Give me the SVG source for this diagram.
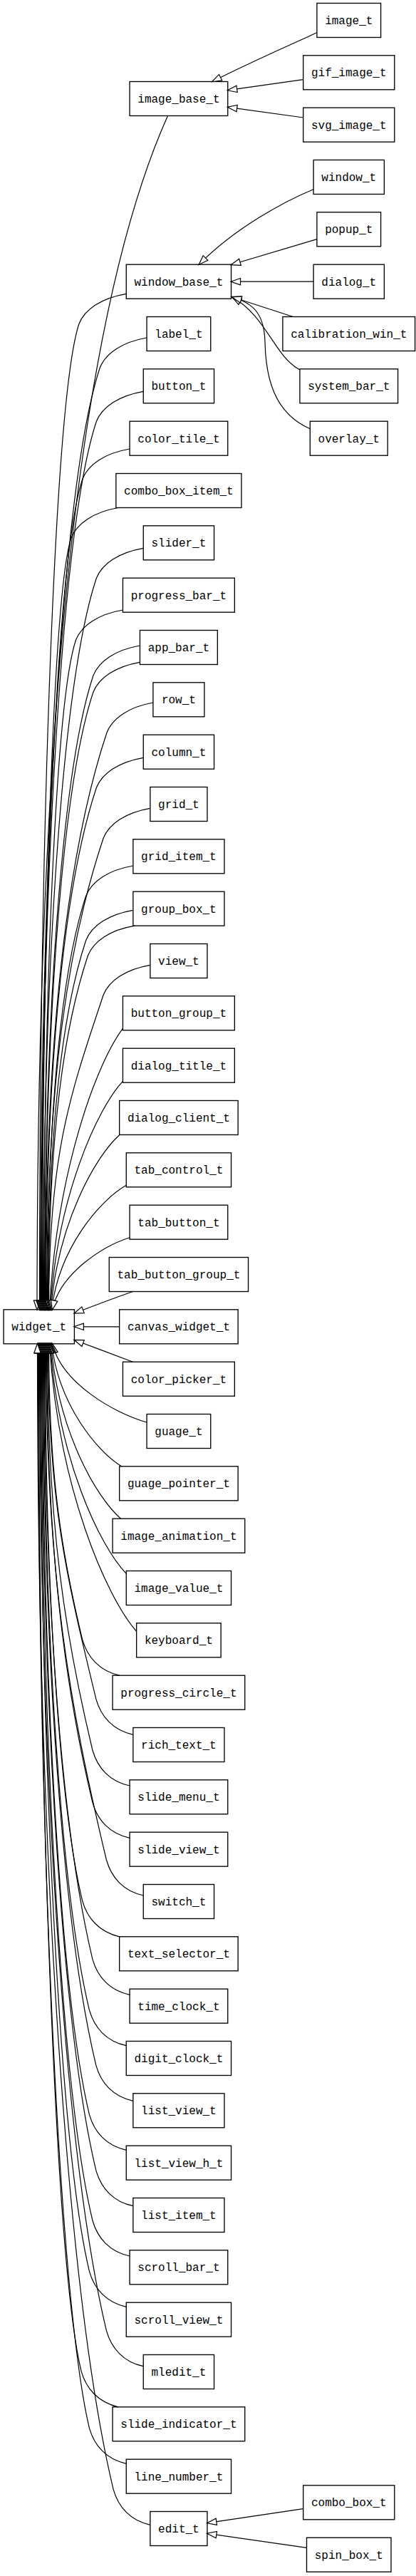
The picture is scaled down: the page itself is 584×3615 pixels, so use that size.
<svg xmlns="http://www.w3.org/2000/svg" width="584" height="3615" viewBox="0 0 584 3615">
<style>
.n rect{fill:#fff;stroke:#000;stroke-width:1.33}
.n text{font-family:"Liberation Mono","Courier New",monospace;font-size:16px;text-anchor:middle;fill:#000}
#edges path{fill:none;stroke:#000;stroke-width:1.2;marker-end:url(#oa)}
</style>
<defs>
<marker id="oa" markerUnits="userSpaceOnUse" markerWidth="16" markerHeight="12" viewBox="0 0 16 12" refX="14" refY="6" orient="auto" style="overflow:visible">
<path d="M1,1.3 L14.5,6 L1,10.7 Z" fill="#fff" stroke="#000" stroke-width="1.2"/>
</marker>
</defs>
<rect width="584" height="3615" fill="#fff"/>
<g id="nodes">
<g id="image_t" class="n"><rect x="444.9" y="4.5" width="89.7" height="48"/><text x="489.75" y="34">image_t</text></g>
<g id="gif_image_t" class="n"><rect x="425.7" y="77.8" width="128.1" height="48"/><text x="489.75" y="107.3">gif_image_t</text></g>
<g id="svg_image_t" class="n"><rect x="425.7" y="151.2" width="128.1" height="48"/><text x="489.75" y="180.7">svg_image_t</text></g>
<g id="window_t" class="n"><rect x="440.1" y="224.5" width="99.3" height="48"/><text x="489.75" y="254">window_t</text></g>
<g id="popup_t" class="n"><rect x="444.9" y="297.8" width="89.7" height="48"/><text x="489.75" y="327.3">popup_t</text></g>
<g id="dialog_t" class="n"><rect x="440.1" y="371.2" width="99.3" height="48"/><text x="489.75" y="400.7">dialog_t</text></g>
<g id="calibration_win_t" class="n"><rect x="396.9" y="444.5" width="185.7" height="48"/><text x="489.75" y="474">calibration_win_t</text></g>
<g id="system_bar_t" class="n"><rect x="420.9" y="517.8" width="137.7" height="48"/><text x="489.75" y="547.3">system_bar_t</text></g>
<g id="overlay_t" class="n"><rect x="435.3" y="591.2" width="108.9" height="48"/><text x="489.75" y="620.7">overlay_t</text></g>
<g id="combo_box_t" class="n"><rect x="425.7" y="3487.8" width="128.1" height="48"/><text x="489.75" y="3517.3">combo_box_t</text></g>
<g id="spin_box_t" class="n"><rect x="430.5" y="3561.2" width="118.5" height="48"/><text x="489.75" y="3590.7">spin_box_t</text></g>

<g id="image_base_t" class="n"><rect x="182.05" y="114.5" width="137.7" height="48"/><text x="250.9" y="144">image_base_t</text></g>
<g id="window_base_t" class="n"><rect x="177.25" y="371.2" width="147.3" height="48"/><text x="250.9" y="400.7">window_base_t</text></g>
<g id="label_t" class="n"><rect x="206.05" y="444.5" width="89.7" height="48"/><text x="250.9" y="474">label_t</text></g>
<g id="button_t" class="n"><rect x="201.25" y="517.8" width="99.3" height="48"/><text x="250.9" y="547.3">button_t</text></g>
<g id="color_tile_t" class="n"><rect x="182.05" y="591.2" width="137.7" height="48"/><text x="250.9" y="620.7">color_tile_t</text></g>
<g id="combo_box_item_t" class="n"><rect x="162.85" y="664.5" width="176.1" height="48"/><text x="250.9" y="694">combo_box_item_t</text></g>
<g id="slider_t" class="n"><rect x="201.25" y="737.8" width="99.3" height="48"/><text x="250.9" y="767.3">slider_t</text></g>
<g id="progress_bar_t" class="n"><rect x="172.45" y="811.2" width="156.9" height="48"/><text x="250.9" y="840.7">progress_bar_t</text></g>
<g id="app_bar_t" class="n"><rect x="196.45" y="884.5" width="108.9" height="48"/><text x="250.9" y="914">app_bar_t</text></g>
<g id="row_t" class="n"><rect x="214.9" y="957.8" width="72" height="48"/><text x="250.9" y="987.3">row_t</text></g>
<g id="column_t" class="n"><rect x="201.25" y="1031.2" width="99.3" height="48"/><text x="250.9" y="1060.7">column_t</text></g>
<g id="grid_t" class="n"><rect x="210.85" y="1104.5" width="80.1" height="48"/><text x="250.9" y="1134">grid_t</text></g>
<g id="grid_item_t" class="n"><rect x="186.85" y="1177.8" width="128.1" height="48"/><text x="250.9" y="1207.3">grid_item_t</text></g>
<g id="group_box_t" class="n"><rect x="186.85" y="1251.2" width="128.1" height="48"/><text x="250.9" y="1280.7">group_box_t</text></g>
<g id="view_t" class="n"><rect x="210.85" y="1324.5" width="80.1" height="48"/><text x="250.9" y="1354">view_t</text></g>
<g id="button_group_t" class="n"><rect x="172.45" y="1397.8" width="156.9" height="48"/><text x="250.9" y="1427.3">button_group_t</text></g>
<g id="dialog_title_t" class="n"><rect x="172.45" y="1471.2" width="156.9" height="48"/><text x="250.9" y="1500.7">dialog_title_t</text></g>
<g id="dialog_client_t" class="n"><rect x="167.65" y="1544.5" width="166.5" height="48"/><text x="250.9" y="1574">dialog_client_t</text></g>
<g id="tab_control_t" class="n"><rect x="177.25" y="1617.8" width="147.3" height="48"/><text x="250.9" y="1647.3">tab_control_t</text></g>
<g id="tab_button_t" class="n"><rect x="182.05" y="1691.2" width="137.7" height="48"/><text x="250.9" y="1720.7">tab_button_t</text></g>
<g id="tab_button_group_t" class="n"><rect x="153.25" y="1764.5" width="195.3" height="48"/><text x="250.9" y="1794">tab_button_group_t</text></g>
<g id="canvas_widget_t" class="n"><rect x="167.65" y="1837.8" width="166.5" height="48"/><text x="250.9" y="1867.3">canvas_widget_t</text></g>
<g id="color_picker_t" class="n"><rect x="172.45" y="1911.2" width="156.9" height="48"/><text x="250.9" y="1940.7">color_picker_t</text></g>
<g id="guage_t" class="n"><rect x="206.05" y="1984.5" width="89.7" height="48"/><text x="250.9" y="2014">guage_t</text></g>
<g id="guage_pointer_t" class="n"><rect x="167.65" y="2057.8" width="166.5" height="48"/><text x="250.9" y="2087.3">guage_pointer_t</text></g>
<g id="image_animation_t" class="n"><rect x="158.05" y="2131.2" width="185.7" height="48"/><text x="250.9" y="2160.7">image_animation_t</text></g>
<g id="image_value_t" class="n"><rect x="177.25" y="2204.5" width="147.3" height="48"/><text x="250.9" y="2234">image_value_t</text></g>
<g id="keyboard_t" class="n"><rect x="191.65" y="2277.8" width="118.5" height="48"/><text x="250.9" y="2307.3">keyboard_t</text></g>
<g id="progress_circle_t" class="n"><rect x="158.05" y="2351.2" width="185.7" height="48"/><text x="250.9" y="2380.7">progress_circle_t</text></g>
<g id="rich_text_t" class="n"><rect x="186.85" y="2424.5" width="128.1" height="48"/><text x="250.9" y="2454">rich_text_t</text></g>
<g id="slide_menu_t" class="n"><rect x="182.05" y="2497.8" width="137.7" height="48"/><text x="250.9" y="2527.3">slide_menu_t</text></g>
<g id="slide_view_t" class="n"><rect x="182.05" y="2571.2" width="137.7" height="48"/><text x="250.9" y="2600.7">slide_view_t</text></g>
<g id="switch_t" class="n"><rect x="201.25" y="2644.5" width="99.3" height="48"/><text x="250.9" y="2674">switch_t</text></g>
<g id="text_selector_t" class="n"><rect x="167.65" y="2717.8" width="166.5" height="48"/><text x="250.9" y="2747.3">text_selector_t</text></g>
<g id="time_clock_t" class="n"><rect x="182.05" y="2791.2" width="137.7" height="48"/><text x="250.9" y="2820.7">time_clock_t</text></g>
<g id="digit_clock_t" class="n"><rect x="177.25" y="2864.5" width="147.3" height="48"/><text x="250.9" y="2894">digit_clock_t</text></g>
<g id="list_view_t" class="n"><rect x="186.85" y="2937.8" width="128.1" height="48"/><text x="250.9" y="2967.3">list_view_t</text></g>
<g id="list_view_h_t" class="n"><rect x="177.25" y="3011.2" width="147.3" height="48"/><text x="250.9" y="3040.7">list_view_h_t</text></g>
<g id="list_item_t" class="n"><rect x="186.85" y="3084.5" width="128.1" height="48"/><text x="250.9" y="3114">list_item_t</text></g>
<g id="scroll_bar_t" class="n"><rect x="182.05" y="3157.8" width="137.7" height="48"/><text x="250.9" y="3187.3">scroll_bar_t</text></g>
<g id="scroll_view_t" class="n"><rect x="177.25" y="3231.2" width="147.3" height="48"/><text x="250.9" y="3260.7">scroll_view_t</text></g>
<g id="mledit_t" class="n"><rect x="201.25" y="3304.5" width="99.3" height="48"/><text x="250.9" y="3334">mledit_t</text></g>
<g id="slide_indicator_t" class="n"><rect x="158.05" y="3377.8" width="185.7" height="48"/><text x="250.9" y="3407.3">slide_indicator_t</text></g>
<g id="line_number_t" class="n"><rect x="177.25" y="3451.2" width="147.3" height="48"/><text x="250.9" y="3480.7">line_number_t</text></g>
<g id="edit_t" class="n"><rect x="210.85" y="3524.5" width="80.1" height="48"/><text x="250.9" y="3554">edit_t</text></g>

<g id="widget_t" class="n"><rect x="5.1" y="1837.8" width="99.3" height="48"/><text x="54.75" y="1867.3">widget_t</text></g>
</g>
<g id="edges">
<path d="M444.9,45.7 C410,62 350,88 298,114.5"/>
<path d="M425.7,111.7 L319.75,126.7"/>
<path d="M425.7,165 L319.75,150.3"/>
<path d="M440.1,265.7 C400,282 330,320 279.4,371.2"/>
<path d="M444.9,335.7 L324.55,371.5"/>
<path d="M440.1,395.2 L324.55,395.2"/>
<path d="M411.4,444.5 L325,416.5"/>
<path d="M420.9,519 C385,500 375,445 326,416.8"/>
<path d="M435.3,601.7 C385,580 373,530 372,480 C371,440 355,425 326,417"/>
<path d="M425.7,3520.7 L291,3540.7"/>
<path d="M430.5,3575.3 L291,3555.3"/>

<path d="M235.5,162.5 C145.5,363 52,800 52,1837.8"/>
<path d="M177.25,412.3 C142,418.3 119,434.3 111,454.3 C77.7,554.2 55.5,1146 55.5,1837.8"/>
<path d="M206.05,474 C171.3,480 148.3,496 140.3,516 C90,666.8 56.5,1176.9 56.5,1837.8"/>
<path d="M201.25,549.3 C166.4,555.3 143.4,571.3 135.4,591.3 C88.7,731.5 57.5,1214.5 57.5,1837.8"/>
<path d="M182.05,630 C146.9,636 123.9,652 115.9,672 C81.5,775.3 58.5,1254.9 58.5,1837.8"/>
<path d="M166,712.5 C131,718.7 108,734.7 100,754.7 C75.7,827.6 59.5,1296.2 59.5,1837.8"/>
<path d="M201.25,769.3 C166.4,775.3 143.4,791.3 135.4,811.3 C90.5,946.1 60.5,1324.5 60.5,1837.8"/>
<path d="M172.45,856 C137.5,862 114.5,878 106.5,898 C79.5,979 61.5,1367.9 61.5,1837.8"/>
<path d="M196.45,906 C161.9,912 138.9,928 130.9,948 C89.9,1071.1 62.5,1392.9 62.5,1837.8"/>
<path d="M196.45,929.3 C161.9,935.3 138.9,951.3 130.9,971.3 C90.2,1093.5 63,1404.5 63,1837.8"/>
<path d="M214.9,986 C181,992 158,1008 150,1028 C98.1,1183.7 63.5,1432.9 63.5,1837.8"/>
<path d="M201.25,1063.3 C166.4,1069.3 143.4,1085.3 135.4,1105.3 C92.9,1232.9 64.5,1471.5 64.5,1837.8"/>
<path d="M210.85,1134.3 C176.1,1140.3 153.1,1156.3 145.1,1176.3 C97.3,1319.6 65.5,1507 65.5,1837.8"/>
<path d="M186.85,1215 C151.8,1221 128.8,1237 120.8,1257 C88.2,1354.7 66.5,1547.4 66.5,1837.8"/>
<path d="M186.85,1277.3 C151.8,1283.3 128.8,1299.3 120.8,1319.3 C88.8,1415.2 67.5,1578.5 67.5,1837.8"/>
<path d="M189.4,1299.2 C154.4,1305 131.4,1321 123.4,1341 C90.2,1440.7 68,1589.4 68,1837.8"/>
<path d="M210.85,1354.3 C176.1,1360.3 153.1,1376.3 145.1,1396.3 C99.1,1534.2 68.5,1617 68.5,1837.8"/>
<path d="M172.45,1443.3 C136.4,1490.6 79.8,1640.5 69.5,1837.8"/>
<path d="M172.45,1517.3 C136.8,1555.7 80.7,1677.5 70.5,1837.8"/>
<path d="M167.65,1592.7 C134.7,1622.1 81.2,1715.2 71.5,1837.8"/>
<path d="M177.25,1663.3 C140.7,1684.2 83,1750.5 72.5,1837.8"/>
<path d="M182.05,1736.7 C144,1748.8 84.3,1787.2 73.5,1837.8"/>
<path d="M186.4,1812.5 C165,1820 130,1833 104.4,1843"/>
<path d="M167.65,1861.8 L104.4,1861.8"/>
<path d="M186.4,1911.2 C165,1903 130,1890 104.4,1880.5"/>

<path d="M206.05,1996 C159.8,1982.8 86.8,1940.9 73.5,1885.8"/>
<path d="M170.6,2057.8 C136.3,2036.7 82.3,1971.5 72.5,1885.8"/>
<path d="M169.5,2131.2 C135.2,2101.3 81.3,2008.2 71.5,1885.8"/>
<path d="M177.25,2208.3 C140,2169.6 81.2,2047 70.5,1885.8"/>
<path d="M191.65,2289.3 C149.1,2240.9 81.8,2087.5 69.5,1885.8"/>
<path d="M167.6,2351.2 C139.6,2344.7 122.6,2325.7 115.6,2300.7 C87.3,2182.9 68.5,2072.4 68.5,1885.8"/>
<path d="M186.85,2434.3 C158.85,2428.3 141.85,2409.3 134.85,2384.3 C94.3,2217 67.5,2110.1 67.5,1885.8"/>
<path d="M182.05,2506 C153.9,2500 136.9,2481 129.9,2456 C91.9,2297.5 66.5,2142.3 66.5,1885.8"/>
<path d="M182.05,2579.3 C153.9,2573.3 136.9,2554.3 129.9,2529.3 C91.3,2368.3 65.5,2175.3 65.5,1885.8"/>
<path d="M201.25,2660 C173.4,2654 156.4,2635 149.4,2610 C98.5,2397.7 64.5,2211.6 64.5,1885.8"/>
<path d="M167.65,2717.8 C139.6,2711.3 122.6,2692.3 115.6,2667.3 C84.3,2537 63.5,2237.4 63.5,1885.8"/>
<path d="M182.05,2799.3 C153.9,2793.3 136.9,2774.3 129.9,2749.3 C89.5,2580.8 62.5,2274.3 62.5,1885.8"/>
<path d="M177.25,2870.7 C149.4,2864.7 132.4,2845.7 125.4,2820.7 C87.1,2660.9 61.5,2306.4 61.5,1885.8"/>
<path d="M186.85,2948.3 C158.8,2942.3 141.8,2923.3 134.8,2898.3 C90.2,2712.5 60.5,2341.4 60.5,1885.8"/>
<path d="M177.25,3017.3 C149.4,3011.3 132.4,2992.3 125.4,2967.3 C85.9,2802.5 59.5,2372.4 59.5,1885.8"/>
<path d="M186.85,3095.7 C158.8,3089.7 141.8,3070.7 134.8,3045.7 C89,2854.9 58.5,2407.7 58.5,1885.8"/>
<path d="M182.05,3166 C153.9,3160 136.9,3141 129.9,3116 C86.5,2935 57.5,2439.3 57.5,1885.8"/>
<path d="M177.25,3237.3 C149.4,3231.3 132.4,3212.3 125.4,3187.3 C84.1,3015 56.5,2471.4 56.5,1885.8"/>
<path d="M201.25,3320.7 C173.4,3314.7 156.4,3295.7 149.4,3270.7 C93.1,3035.9 55.5,2508.9 55.5,1885.8"/>
<path d="M166,3377.8 C138,3371.3 121,3352.3 114,3327.3 C78.3,3178.5 54.5,2534.4 54.5,1885.8"/>
<path d="M177.25,3457.3 C149.4,3451.3 132.4,3432.3 125.4,3407.3 C82.3,3227.5 53.5,2570.4 53.5,1885.8"/>
<path d="M210.85,3543.3 C183.1,3537.3 166.1,3518.3 159.1,3493.3 C95.1,3226.8 52.5,2609.1 52.5,1885.8"/>
</g>
</svg>
